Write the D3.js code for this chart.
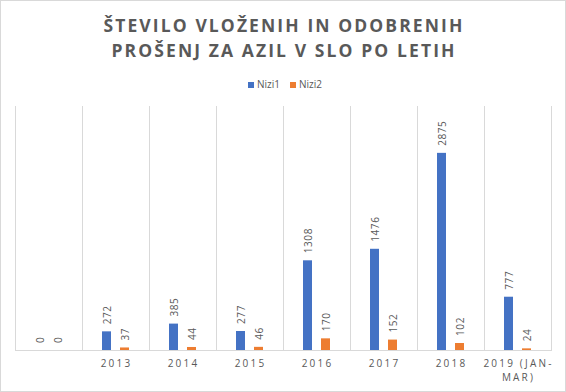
<!DOCTYPE html>
<html><head><meta charset="utf-8">
<script src="https://cdn.jsdelivr.net/npm/d3@7"></script>
<style>
html,body{margin:0;padding:0;background:#fff;}
text{font-family:"Open Sans",sans-serif;}
</style></head>
<body><svg id="c" width="566" height="392"></svg>
<script>
const categories = ["", "2013", "2014", "2015", "2016", "2017", "2018", "2019 (JAN-MAR)"];
const categoryLines = [[""], ["2013"], ["2014"], ["2015"], ["2016"], ["2017"], ["2018"], ["2019 (JAN-", "MAR)"]];
const nizi1 = [0, 272, 385, 277, 1308, 1476, 2875, 777];
const nizi2 = [0, 37, 44, 46, 170, 152, 102, 24];
const seriesNames = ["Nizi1", "Nizi2"];
const colors = ["#4472C4", "#ED7D31"];
const titleLines = ["ŠTEVILO VLOŽENIH IN ODOBRENIH", "PROŠENJ ZA AZIL V SLO PO LETIH"];

const svg = d3.select("#c");
const W = 566, H = 392;
svg.append("rect").attr("x",0.5).attr("y",0.5).attr("width",W-1).attr("height",H-1)
  .attr("fill","#fff").attr("stroke","#d9d9d9");

// title
svg.append("g").selectAll("text").data(titleLines).join("text")
  .attr("x", W/2 + 1).attr("y",(d,i)=>32 + i*25)
  .attr("text-anchor","middle").attr("font-size",17.5).attr("font-weight",700)
  .attr("letter-spacing",2.1).attr("fill","#595959").text(d=>d);

// legend
const leg = svg.append("g");
const legX = [248, 290];
seriesNames.forEach((n,i)=>{
  leg.append("rect").attr("x",legX[i]).attr("y",82).attr("width",6).attr("height",6).attr("fill",colors[i]);
  leg.append("text").attr("x",legX[i]+9).attr("y",88).attr("font-size",10).attr("fill","#595959").text(n);
});

const x0 = 15, x1 = 551, yBase = 350;
const x = d3.scaleBand().domain(categories).range([x0,x1]).paddingInner(0).paddingOuter(0);
const y = d3.scaleLinear().domain([0,3500]).range([yBase,110]);

// gridlines (category boundaries)
const bounds = categories.map(c=>x(c)).concat([x1]);
svg.append("g").selectAll("line").data(bounds).join("line")
  .attr("x1",d=>d+0.5).attr("x2",d=>d+0.5).attr("y1",106).attr("y2",yBase)
  .attr("stroke","#d9d9d9").attr("stroke-width",1);
svg.append("line").attr("x1",x0).attr("x2",x1+1).attr("y1",yBase+0.5).attr("y2",yBase+0.5)
  .attr("stroke","#d9d9d9");

const barW = 9, off = 9;
const series = [nizi1, nizi2];
series.forEach((vals,si)=>{
  const cx = c => x(c) + x.bandwidth()/2 + (si===0 ? -off : off);
  const g = svg.append("g");
  g.selectAll("rect").data(categories).join("rect")
    .attr("x",c=>cx(c)-barW/2).attr("width",barW)
    .attr("y",(c,i)=>y(vals[i])).attr("height",(c,i)=>yBase-y(vals[i]))
    .attr("fill",colors[si]);
  g.selectAll("text").data(categories).join("text")
    .attr("transform",(c,i)=>`translate(${cx(c)+0.5},${y(vals[i])-7}) rotate(-90)`)
    .attr("dy","0.35em").attr("font-size",10).attr("letter-spacing",0.6)
    .attr("fill","#595959").text((c,i)=>vals[i]);
});

// x labels
const xl = svg.append("g");
categories.forEach((c,i)=>{
  categoryLines[i].forEach((ln,j)=>{
    xl.append("text").attr("x",x(c)+x.bandwidth()/2+1).attr("y",367+j*13.5)
      .attr("text-anchor","middle").attr("font-size",10).attr("letter-spacing",2.2)
      .attr("fill","#595959").text(ln);
  });
});
</script></body></html>
